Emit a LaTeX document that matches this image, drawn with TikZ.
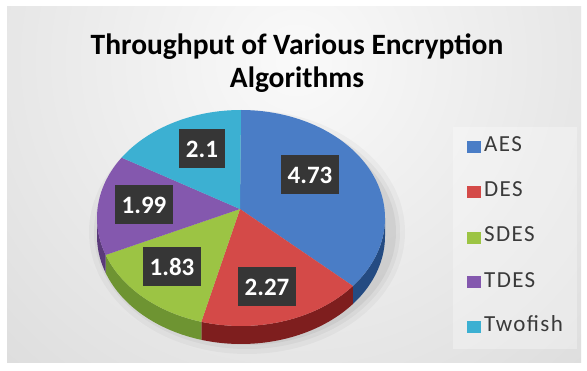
\documentclass[tikz,border=0pt]{standalone}
\usepackage{fontspec}
\setmainfont{Carlito}
\definecolor{aesT}{HTML}{4A7DC6}
\definecolor{aesS}{HTML}{244B82}
\definecolor{desT}{HTML}{D44A48}
\definecolor{desS}{HTML}{7E1E1E}
\definecolor{sdesT}{HTML}{9CC444}
\definecolor{sdesS}{HTML}{6E9432}
\definecolor{tdesT}{HTML}{8458AE}
\definecolor{tdesS}{HTML}{5A3A7A}
\definecolor{twoT}{HTML}{3CB0D2}
\definecolor{lblbg}{HTML}{363636}
\definecolor{legtext}{HTML}{3A3A3A}
\def\cx{241}\def\cy{218}\def\rx{144}\def\ry{108}\def\dep{18}
\newcommand\pietop[3]{\fill[#3] (M) -- plot[domain=#1:#2,samples=60] ({\cx+\rx*cos(\x)},{\cy-\ry*sin(\x)}) -- cycle;}
\newcommand\pieside[3]{\fill[#3] plot[domain=#1:#2,samples=40] ({\cx+\rx*cos(\x)},{\cy-\ry*sin(\x)}) -- plot[domain=#2:#1,samples=40] ({\cx+\rx*cos(\x)},{\cy+\dep-\ry*sin(\x)}) -- cycle;}
\tikzset{
  lbl/.style={fill=lblbg, text=white, font=\bfseries\fontsize{25}{25}\selectfont, inner xsep=7pt, minimum height=39pt},
  legsq/.style={fill=#1, minimum width=14pt, minimum height=12pt, inner sep=0pt, anchor=south west},
  legtx/.style={text=legtext, font=\fontsize{23}{23}\selectfont\addfontfeatures{LetterSpace=6}, anchor=base west, inner sep=0pt},
  ttl/.style={font=\bfseries\fontsize{29.5}{29.5}\selectfont, text=black, anchor=base, inner sep=0pt}
}
\begin{document}
\begin{tikzpicture}[x=1pt,y=-1pt]
\useasboundingbox (0,0) rectangle (587,371);
\fill[white] (0,0) rectangle (587,371);
\begin{scope}
\clip (7,7) rectangle (581,363);
\shade[inner color=black!2, outer color=black!24] (296,60) circle (840);
\end{scope}
% legend box
\fill[white, opacity=0.3] (453,127) rectangle (577,349);
% shadow
\foreach \s/\o in {14/0.03,9/0.04,5/0.05}{
  \fill[black, opacity=\o] (247,232) ellipse ({\rx+\s} and {\ry+\s});
}
\coordinate (M) at (240,209);
% sides
\pieside{-39}{0}{aesS}
\pieside{-106}{-39}{desS}
\pieside{-160}{-106}{sdesS}
\pieside{-180}{-160}{tdesS}
% tops
\pietop{90}{-39}{aesT}
\pietop{-39}{-106}{desT}
\pietop{-106}{-160}{sdesT}
\pietop{200}{146}{tdesT}
\pietop{146}{90}{twoT}
% labels
\node[lbl] (l473) at (310,175) {4.73};
\node[lbl] (l227) at (267,287) {2.27};
\node[lbl] (l183) at (172,267) {1.83};
\node[lbl] (l199) at (144,205) {1.99};
\node[lbl] (l21) at (202,149) {2.1};
% title
\node[ttl] (t1) at (297,55) {Throughput of Various Encryption};
\node[ttl] (t2) at (297,88) {Algorithms};
% legend
\node[legsq=aesT] (sq1) at (467,153) {};
\node[legtx] (lg1) at (484,152) {AES};
\node[legsq=desT] (sq2) at (467,198) {};
\node[legtx] (lg2) at (484,197) {DES};
\node[legsq=sdesT] (sq3) at (467,244) {};
\node[legtx] (lg3) at (484,242) {SDES};
\node[legsq=tdesT] (sq4) at (467,288) {};
\node[legtx] (lg4) at (484,288) {TDES};
\node[legsq=twoT] (sq5) at (467,333) {};
\node[legtx] (lg5) at (484,332) {Twofish};
\end{tikzpicture}
\end{document}
